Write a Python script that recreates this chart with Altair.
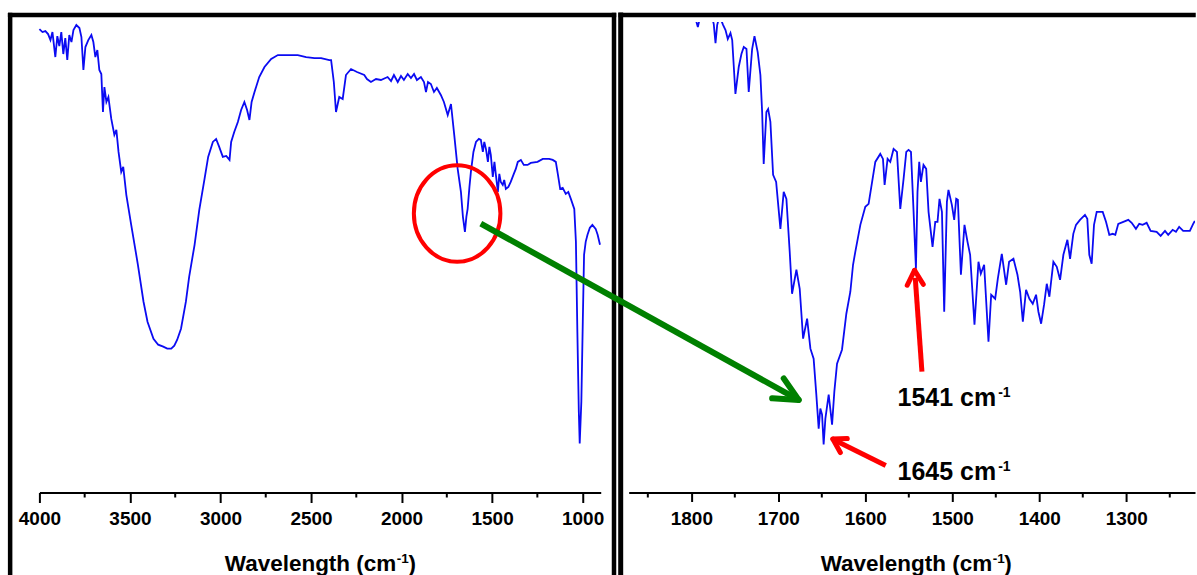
import altair as alt
import pandas as pd

FONT = "Liberation Sans"
BLUE = "#0b0bf2"
RED = "#ff0000"
GREEN = "#008000"

# ---------------- data ----------------
# Left panel: full FTIR spectrum (wavenumber, transmittance in arbitrary units)
left_wn = [4000, 3983, 3967, 3952, 3939, 3928, 3912, 3901, 3890, 3879, 3868, 3857, 3846, 3835,
           3823, 3812, 3796, 3779, 3768, 3757, 3746, 3730, 3713, 3702, 3691, 3680, 3669, 3658,
           3649, 3641, 3630, 3619, 3603, 3586, 3575, 3563, 3548, 3537, 3520, 3493, 3456, 3425,
           3403, 3370, 3344, 3316, 3294, 3272, 3255, 3239, 3218, 3191, 3173, 3143, 3117, 3088,
           3068, 3042, 3024, 3007, 2987, 2968, 2950, 2941, 2924, 2904, 2886, 2868, 2853, 2840,
           2828, 2812, 2786, 2757, 2720, 2683, 2638, 2573, 2527, 2481, 2444, 2399, 2389, 2374,
           2362, 2344, 2325, 2307, 2279, 2246, 2206, 2191, 2169, 2141, 2114, 2077, 2058, 2042,
           2021, 2003, 1987, 1966, 1948, 1931, 1915, 1893, 1876, 1865, 1854, 1838, 1821, 1805,
           1783, 1766, 1745, 1727, 1709, 1690, 1672, 1661, 1650, 1642, 1635, 1625, 1617, 1603,
           1589, 1573, 1562, 1551, 1543, 1534, 1523, 1515, 1507, 1496, 1487, 1479, 1468, 1460,
           1452, 1441, 1433, 1424, 1410, 1397, 1380, 1369, 1358, 1341, 1325, 1304, 1286, 1249,
           1220, 1185, 1165, 1148, 1137, 1124, 1110, 1093, 1079, 1065, 1046, 1037, 1029, 1021,
           1016, 1007, 999, 992, 983, 973, 960, 946, 928, 917, 904]
left_t = [464, 461, 462, 459, 453, 461, 436, 457, 447, 461, 439, 455, 433, 458,
          451, 463, 468, 465, 456, 423, 446, 453, 458, 451, 436, 443, 423, 419,
          381, 406, 391, 396, 374, 358, 363, 341, 321, 326, 298, 268, 228, 191,
          171, 154, 148, 146, 144, 144, 147, 153, 164, 191, 216, 248, 283, 314,
          336, 351, 354, 346, 336, 337, 333, 351, 361, 371, 383, 391, 383, 373,
          391, 401, 416, 426, 434, 438, 438, 438, 436, 435, 435, 433, 433, 411,
          381, 396, 394, 418, 424, 421, 418, 414, 411, 414, 413, 416, 412, 418,
          411, 417, 413, 419, 415, 419, 413, 416, 411, 401, 411, 409, 401, 405,
          398, 391, 378, 389, 358, 324, 301, 276, 261, 276, 284, 306, 321, 341,
          351, 354, 353, 341, 351, 344, 331, 346, 338, 316, 331, 318, 301, 319,
          311, 308, 313, 304, 306, 311, 319, 324, 331, 333, 328, 328, 330, 331,
          334, 334, 333, 331, 319, 304, 305, 299, 301, 294, 284, 251, 161, 81,
          49, 91, 171, 238, 251, 258, 265, 268, 264, 258, 248]

# Right panel: zoom of the 1870-1220 region
right_wn = [1796.3, 1792.5, 1789.4, 1776.8, 1774.2, 1772.2, 1770.3, 1767.6, 1763.4, 1760.7,
            1758.1, 1755.0, 1753.0, 1749.3, 1745.5, 1742.4, 1739.7, 1736.6, 1734.0, 1730.1,
            1727.4, 1723.7, 1720.6, 1718.6, 1716.8, 1713.7, 1711.7, 1709.1, 1706.0, 1702.5,
            1699.9, 1697.6, 1693.8, 1690.7, 1686.9, 1684.2, 1679.2, 1675.4, 1671.5, 1666.9,
            1663.1, 1659.4, 1656.3, 1653.6, 1651.7, 1649.7, 1647.9, 1645.9, 1642.1, 1638.2,
            1635.6, 1632.5, 1626.8, 1621.8, 1617.2, 1614.1, 1611.5, 1605.7, 1600.0, 1596.2,
            1588.5, 1582.8, 1579.7, 1577.8, 1574.4, 1571.3, 1567.5, 1563.6, 1559.8, 1556.0,
            1552.9, 1550.3, 1547.5, 1544.5, 1541.8, 1540.0, 1538.0, 1536.1, 1533.1, 1530.0,
            1527.3, 1522.7, 1519.6, 1517.0, 1514.7, 1511.9, 1509.3, 1506.2, 1504.4, 1500.5,
            1497.8, 1495.5, 1493.6, 1490.1, 1486.0, 1482.5, 1479.5, 1474.5, 1469.9, 1467.2,
            1463.4, 1458.4, 1455.3, 1450.7, 1447.7, 1443.1, 1438.1, 1434.7, 1429.7, 1425.1,
            1422.0, 1418.9, 1415.2, 1411.4, 1407.5, 1403.7, 1401.0, 1397.9, 1394.5, 1391.4,
            1388.4, 1383.8, 1379.9, 1376.1, 1372.3, 1367.7, 1364.6, 1360.9, 1357.8, 1353.2,
            1347.5, 1344.8, 1342.5, 1339.8, 1337.1, 1334.0, 1327.1, 1323.3, 1319.5, 1315.6,
            1312.6, 1309.2, 1303.4, 1297.7, 1293.8, 1288.9, 1285.1, 1281.2, 1276.6, 1272.0,
            1265.1, 1260.5, 1255.5, 1251.8, 1246.7, 1242.9, 1239.2, 1234.6, 1226.9, 1223.1,
            1221.2]
right_t = [478, 466, 478, 478, 469, 450, 468, 477, 468, 463,
           454, 460, 453, 399, 426, 439, 446, 444, 401, 444,
           457, 441, 418, 381, 329, 381, 384, 371, 318, 311,
           286, 264, 301, 294, 241, 199, 223, 204, 154, 174,
           144, 134, 98, 64, 84, 78, 48, 74, 98, 68,
           101, 129, 143, 179, 201, 228, 241, 268, 286, 289,
           331, 339, 334, 308, 334, 331, 344, 341, 284, 314,
           341, 343, 341, 281, 224, 301, 331, 311, 328, 324,
           281, 246, 271, 271, 294, 281, 181, 291, 303, 288,
           273, 294, 293, 218, 268, 251, 238, 168, 231, 219,
           228, 151, 198, 194, 214, 239, 208, 231, 234, 218,
           201, 171, 203, 194, 189, 198, 181, 169, 188, 209,
           196, 231, 226, 213, 238, 253, 234, 259, 268, 273,
           278, 274, 238, 229, 268, 281, 281, 271, 258, 259,
           258, 269, 271, 273, 270, 264, 269, 268, 270, 262,
           261, 257, 262, 258, 263, 261, 266, 262, 262, 269,
           272]

# Axis ticks
left_major = [4000, 3500, 3000, 2500, 2000, 1500, 1000]
left_minor = [3750, 3250, 2750, 2250, 1750, 1250]
right_major = [1800, 1700, 1600, 1500, 1400, 1300]
right_minor = [1850, 1750, 1650, 1550, 1450, 1350, 1250]

# Texts
axis_title = "Wavelength (cm"
peak_labels = ["1541 cm", "1645 cm"]
superscript = "-1"

# Annotation anchors (data coordinates)
circle_wn, circle_t = [1693], [279.3]
green_wn = [2042.0, 1676.6, 1676.6]
green_t = [269.3, 92.7, 92.7]
green_wn2 = [1680.4, 1693.8, 1707.1]
green_t2 = [94.5, 114.3, 94.3]
red_shaft_wn = [1542.6, 1633.3]
red_shaft_t = [215, 51.5]
red_shaft_wn2 = [1534.9, 1576.5]
red_shaft_t2 = [121, 27]
red_arm_wn = [1543.4, 1543.4, 1637.3, 1637.3]
red_arm_t = [222.5, 222.5, 53.5, 53.5]
red_arm_wn2 = [1533.4, 1551.8, 1620.7, 1628.7]
red_arm_t2 = [208.5, 207.5, 54, 40]

# ---------------- chart ----------------
YS = alt.Scale(domain=[0, 471], nice=False, zero=False)
ONE = pd.DataFrame({"a": [0]})


def make_axis(values, tick, pad):
    return alt.Axis(values=values, format="d", title=None, grid=False,
                    labelFont=FONT, labelFontSize=19, labelFontWeight="bold",
                    labelColor="black", labelPadding=pad, labelFlush=False,
                    labelOverlap=False, tickColor="black", tickWidth=2, tickSize=tick,
                    domainColor="black", domainWidth=2)


class Panel:
    def __init__(self, dom, values, tick, pad):
        self.scale = alt.Scale(domain=dom, nice=False, zero=False)
        self.axis = make_axis(values, tick, pad)

    def x(self, field):
        return alt.X(field, type="quantitative", scale=self.scale, axis=self.axis)


def yenc(field):
    return alt.Y(field, type="quantitative", scale=YS, axis=None)


def border(x, x2=None, y=None, y2=None, width=4.5):
    enc = {"x": alt.value(x)}
    if x2 is not None:
        enc["x2"] = alt.value(x2)
    enc["y"] = alt.value(y)
    if y2 is not None:
        enc["y2"] = alt.value(y2)
    return alt.Chart(ONE).mark_rule(color="black", strokeWidth=width,
                                    strokeCap="square").encode(**enc)


def text_layer(p, wn, t, labels, size, align):
    df = pd.DataFrame({"wn": wn, "t": t, "label": labels})
    return alt.Chart(df).mark_text(font=FONT, fontWeight="bold", fontSize=size,
                                   align=align, baseline="alphabetic",
                                   color="black").encode(
        x=p.x("wn"), y=yenc("t"), text="label:N")


def minor_ticks(p, vals):
    df = pd.DataFrame({"wn": vals})
    return alt.Chart(df).mark_rule(color="black", strokeWidth=2).encode(
        x=p.x("wn"), y=alt.value(471), y2=alt.value(476))


def segs(p, wn, t, wn2, t2, color, width, cap):
    df = pd.DataFrame({"wn": wn, "t": t, "wn2": wn2, "t2": t2})
    return alt.Chart(df).mark_rule(color=color, strokeWidth=width, strokeCap=cap).encode(
        x=p.x("wn"), y=yenc("t"), x2="wn2:Q", y2="t2:Q")


# Left panel
LP = Panel([4000, 900], left_major, 10, 7)
left_df = pd.DataFrame({"wn": left_wn, "t": left_t})
left_line = alt.Chart(left_df).mark_line(color=BLUE, strokeWidth=1.8).encode(
    x=LP.x("wn"), y=yenc("t"))
ellipse_path = "M -0.897 0 A 0.897 1 0 1 0 0.897 0 A 0.897 1 0 1 0 -0.897 0 Z"
circle = alt.Chart(pd.DataFrame({"wn": circle_wn, "t": circle_t})).mark_point(
    shape=ellipse_path, size=9332, filled=False, stroke=RED, strokeWidth=4,
    opacity=1).encode(x=LP.x("wn"), y=yenc("t"))

left = alt.layer(
    left_line,
    border(-29.3, 575.3, -7),
    border(-29.3, None, -7, 551.5),
    border(575.3, None, -7, 551.5),
    minor_ticks(LP, left_minor),
    circle,
    text_layer(LP, [2029], [-78.3], [axis_title], 22.5, "right"),
    text_layer(LP, [2026.4], [-70.5], [superscript], 13.5, "left"),
    text_layer(LP, [1961.8], [-78.3], [")"], 22.5, "left"),
).properties(width=562, height=471)

# Right panel
RP = Panel([1872, 1221], right_major, 9, 8)
right_df = pd.DataFrame({"wn": right_wn, "t": right_t})
right_line = alt.Chart(right_df).mark_line(color=BLUE, strokeWidth=1.8, clip=True).encode(
    x=RP.x("wn"), y=yenc("t"))

right = alt.layer(
    right_line,
    border(-8, None, -7, 551.5, 5),
    border(-8, 565.5, -7, None, 4.5),
    minor_ticks(RP, right_minor),
    segs(RP, red_shaft_wn, red_shaft_t, red_shaft_wn2, red_shaft_t2, RED, 5, "butt"),
    segs(RP, red_arm_wn, red_arm_t, red_arm_wn2, red_arm_t2, RED, 5, "round"),
    segs(RP, green_wn[:1], green_t[:1], green_wn2[:1], green_t2[:1], GREEN, 6, "butt"),
    segs(RP, green_wn[1:], green_t[1:], green_wn2[1:], green_t2[1:], GREEN, 6, "round"),
    text_layer(RP, [1562.9, 1562.9], [87, 12.7], peak_labels, 25, "left"),
    text_layer(RP, [1447.3, 1447.3], [95.5, 21.5], [superscript, superscript], 14, "left"),
    text_layer(RP, [1454.2], [-78.3], [axis_title], 22.5, "right"),
    text_layer(RP, [1453.6], [-70.5], [superscript], 13.5, "left"),
    text_layer(RP, [1440.4], [-78.3], [")"], 22.5, "left"),
).properties(width=567, height=471)

chart = alt.hconcat(left, right, spacing=28, bounds="flush").properties(
    padding={"left": 6.45, "top": 10.75, "right": 0, "bottom": 0},
    background="white",
).configure_view(strokeWidth=0)

chart.save("out.html", embed_options={"renderer": "svg", "actions": False})
